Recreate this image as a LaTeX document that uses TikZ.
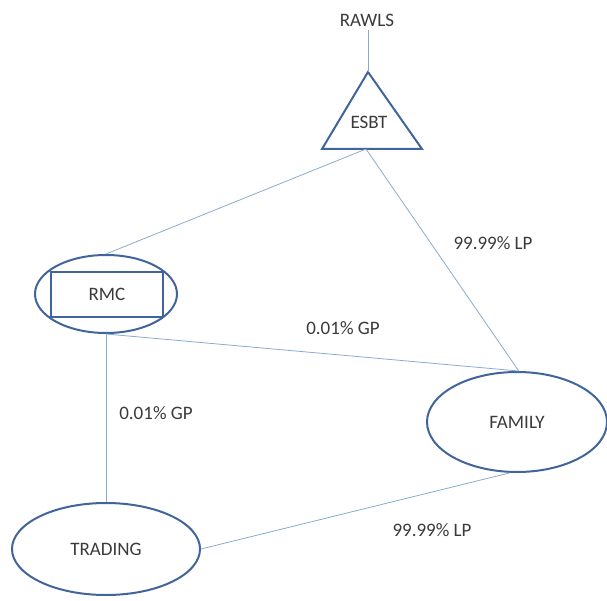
\documentclass[tikz,border=0pt]{standalone}
\usepackage{fontspec}
\setmainfont{Carlito}
\usetikzlibrary{shapes.geometric}
\definecolor{shapeblue}{HTML}{41659A}
\definecolor{lineblue}{HTML}{8AABD0}
\definecolor{txt}{HTML}{3A3A3A}
\begin{document}
\begin{tikzpicture}[x=1pt,y=-1pt,
  every node/.style={font=\fontsize{19}{21}\selectfont, text=txt},
  shp/.style={draw=shapeblue, line width=2pt},
  conn/.style={draw=lineblue, line width=0.8pt},
  lbl/.style={inner sep=0pt}]
\useasboundingbox (0,0) rectangle (607,601);
% shapes
\node[lbl] (rawls) at (367,20) {RAWLS};
\coordinate (apex) at (368,72);
\coordinate (bl) at (322,149);
\coordinate (br) at (422,149);
\coordinate (bmid) at (366,149);
\draw[shp, line join=miter] (apex) -- (bl) -- (br) -- cycle;
\node[lbl] (esbt) at (369,122) {ESBT};
\node[shp, ellipse, minimum width=142pt, minimum height=78pt, inner sep=0pt] (rmcE) at (106,294) {};
\node[shp, rectangle, minimum width=112pt, minimum height=45pt, inner sep=0pt] (rmc) at (107,294.5) {RMC};
\node[shp, ellipse, minimum width=180pt, minimum height=100pt, inner sep=0pt] (family) at (517,422) {FAMILY};
\node[shp, ellipse, minimum width=188pt, minimum height=92pt, inner sep=0pt] (trading) at (106,549) {TRADING};
% connectors
\draw[conn] (rawls.south -| apex) ++(0,4) -- (apex);
\draw[conn] (bmid) -- (rmcE.north);
\draw[conn] (bmid) -- (family.88);
\draw[conn] (rmcE.south) -- (family.88);
\draw[conn] (rmcE.south) -- (trading.north);
\draw[conn] (trading.east) -- (family.262);
% labels
\node[lbl] (l1) at (493,243) {99.99\% LP};
\node[lbl] (l2) at (343,328) {0.01\% GP};
\node[lbl] (l3) at (156,413) {0.01\% GP};
\node[lbl] (l4) at (432,530) {99.99\% LP};
\end{tikzpicture}
\end{document}
